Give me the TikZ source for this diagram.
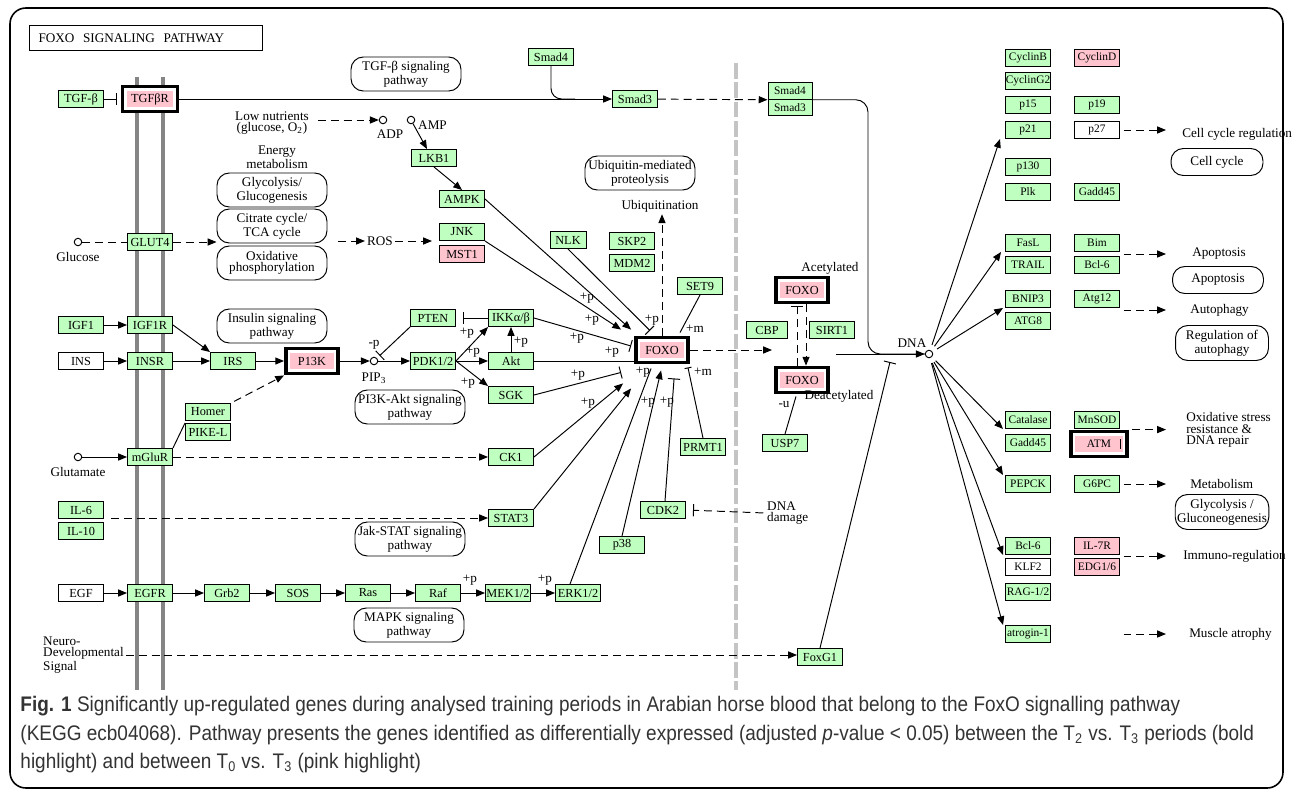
\documentclass[tikz,border=0pt]{standalone}
\usepackage{fontspec}
\setmainfont{Liberation Serif}
\newfontfamily\capfont[FakeStretch=0.9]{Liberation Sans}
\usetikzlibrary{arrows.meta,positioning}

\definecolor{keggreen}{HTML}{BFFFBF}
\definecolor{keggpink}{HTML}{FFC4CE}
\definecolor{membrane}{HTML}{858585}
\definecolor{divider}{HTML}{C4C4C4}
\definecolor{captext}{HTML}{333333}

\begin{document}
\begin{tikzpicture}[x=0.02cm, y=-0.02cm, line width=0.55pt,
  every node/.style={font=\fontsize{7.5}{6.6}\selectfont},
  gene/.style={draw, fill=keggreen, minimum width=0.9cm, minimum height=0.34cm, inner sep=0pt, font=\fontsize{7}{7}\selectfont},
  hitgene/.style={gene, fill=keggpink},
  nogene/.style={gene, fill=white},
  rgene/.style={gene, font=\fontsize{6.5}{6.5}\selectfont},
  boldhit/.style={draw, line width=2.2pt, fill=white, minimum width=1.04cm, minimum height=0.5cm, inner sep=0pt, font=\fontsize{7}{7}\selectfont,
    path picture={\fill[keggpink] ([shift={(2.3pt,2.3pt)}]path picture bounding box.south west) rectangle ([shift={(-2.3pt,-2.3pt)}]path picture bounding box.north east);}},
  pathway/.style={draw, rounded corners=7pt, minimum width=2.2cm, minimum height=0.68cm, align=center, inner sep=1pt},
  dot/.style={draw, circle, fill=white, minimum size=0.15cm, inner sep=0pt},
  lbl/.style={inner sep=1pt, align=center},
  caption/.style={anchor=west, inner sep=0pt, text=captext, font=\capfont\fontsize{12}{14}\selectfont},
  arr/.style={-{Triangle[length=5pt,width=4pt]}},
  inh/.style={-{Bar[width=7pt]}},
  dasharr/.style={dash pattern=on 4.5pt off 2.8pt, -{Triangle[length=5pt,width=4pt]}},
  dashline/.style={dash pattern=on 4.5pt off 2.8pt}
]
\useasboundingbox (0,0) rectangle (1292,795);

% Frame and title
\draw[line width=0.9pt, rounded corners=9pt] (10,8) rectangle (1283,788);
\node[draw, line width=0.9pt, minimum width=4.66cm, minimum height=0.5cm, text width=4.3cm, inner xsep=0.18cm, align=left] (title) at (146,38) {FOXO\ \ SIGNALING\ \ PATHWAY};

% Membranes
\draw[membrane, line width=2.2pt] (137,77) -- (137,690);
\draw[membrane, line width=2.2pt] (163,77) -- (163,690);
\draw[divider, line width=2.8pt, dash pattern=on 9pt off 2pt] (736,63) -- (736,690);

% Receptors and upstream genes
\node[gene] (tgfb) at (81,99) {TGF-β};
\node[boldhit, minimum width=1.1cm] (tgfbr) at (150,99) {TGFβR};
\node[gene] (glut4) at (150,242) {GLUT4};
\node[gene] (igf1) at (81,325) {IGF1};
\node[gene] (igf1r) at (150,325) {IGF1R};
\node[nogene] (ins) at (81,361) {INS};
\node[gene] (insr) at (150,361) {INSR};
\node[gene] (irs) at (233,361) {IRS};
\node[boldhit] (pi3k) at (312,361) {P13K};
\node[gene] (homer) at (208,412) {Homer};
\node[gene] (pikel) at (208,432) {PIKE-L};
\node[gene] (mglur) at (150,457) {mGluR};
\node[gene] (il6) at (81,510) {IL-6};
\node[gene] (il10) at (81,531) {IL-10};
\node[nogene] (egf) at (81,593) {EGF};
\node[gene] (egfr) at (150,593) {EGFR};
\node[gene] (grb2) at (227,593) {Grb2};
\node[gene] (sos) at (298,593) {SOS};
\node[gene] (ras) at (368,593) {Ras};
\node[gene] (raf) at (438,593) {Raf};
\node[gene] (mek) at (508,593) {MEK1/2};
\node[gene] (erk) at (578,593) {ERK1/2};

% Kinases around FOXO
\node[gene] (lkb1) at (434,158) {LKB1};
\node[gene] (ampk) at (462,199) {AMPK};
\node[gene] (jnk) at (462,232) {JNK};
\node[hitgene] (mst1) at (462,254) {MST1};
\node[gene] (pten) at (433,318) {PTEN};
\node[gene] (pdk) at (433,361) {PDK1/2};
\node[gene] (ikk) at (511,318) {IKKα/β};
\node[gene] (akt) at (511,361) {Akt};
\node[gene] (sgk) at (511,395) {SGK};
\node[gene] (ck1) at (511,457) {CK1};
\node[gene] (stat3) at (511,518) {STAT3};
\node[gene, minimum width=0.72cm] (nlk) at (568,240) {NLK};
\node[gene] (skp2) at (632,241) {SKP2};
\node[gene] (mdm2) at (632,263) {MDM2};
\node[gene] (set9) at (700,286) {SET9};
\node[gene] (prmt1) at (703,447) {PRMT1};
\node[gene] (p38) at (622,545) {p38};
\node[gene] (cdk2) at (663,510) {CDK2};
\node[gene] (smad4a) at (551,57) {Smad4};
\node[gene] (smad3a) at (635,99) {Smad3};
\node[boldhit] (foxo) at (662,350) {FOXO};

% Nucleus
\node[rgene, minimum width=0.88cm, minimum height=0.33cm] (smad4b) at (790,91) {Smad4};
\node[rgene, minimum width=0.88cm, minimum height=0.33cm] (smad3b) at (790,107.5) {Smad3};
\node[boldhit] (foxoac) at (802,290) {FOXO};
\node[boldhit] (foxode) at (802,380) {FOXO};
\node[gene, minimum width=0.82cm] (cbp) at (767,330) {CBP};
\node[gene] (sirt1) at (832,330) {SIRT1};
\node[gene] (usp7) at (785,443) {USP7};
\node[gene] (foxg1) at (820,657) {FoxG1};

% Target genes
\node[rgene] (cyclinb) at (1028,58) {CyclinB};
\node[rgene, fill=keggpink] (cyclind) at (1097,58) {CyclinD};
\node[rgene] (cyclg2) at (1028,81) {CyclinG2};
\node[rgene] (p15) at (1028,105) {p15};
\node[rgene] (p19) at (1097,105) {p19};
\node[rgene] (p21) at (1028,130) {p21};
\node[rgene, fill=white] (p27) at (1097,130) {p27};
\node[rgene] (p130) at (1028,167) {p130};
\node[rgene] (plk) at (1028,192) {Plk};
\node[rgene] (gadd45a) at (1097,192) {Gadd45};
\node[rgene] (fasl) at (1028,243) {FasL};
\node[rgene] (bim) at (1097,243) {Bim};
\node[rgene] (trail) at (1028,265) {TRAIL};
\node[rgene] (bcl6a) at (1097,265) {Bcl-6};
\node[rgene] (bnip3) at (1028,299) {BNIP3};
\node[rgene] (atg12) at (1097,299) {Atg12};
\node[rgene] (atg8) at (1028,321) {ATG8};
\node[rgene] (catalase) at (1028,420) {Catalase};
\node[rgene] (mnsod) at (1097,420) {MnSOD};
\node[rgene] (gadd45b) at (1028,443) {Gadd45};
\node[boldhit, minimum width=1.12cm, font=\fontsize{6.5}{6.5}\selectfont] (atm) at (1099,444) {ATM};
\node[rgene] (pepck) at (1028,484) {PEPCK};
\node[rgene] (g6pc) at (1097,484) {G6PC};
\node[rgene] (bcl6b) at (1028,546) {Bcl-6};
\node[rgene, fill=keggpink] (il7r) at (1097,546) {IL-7R};
\node[rgene, fill=white] (klf2) at (1028,567) {KLF2};
\node[rgene, fill=keggpink] (edg) at (1097,567) {EDG1/6};
\node[rgene] (rag) at (1028,592) {RAG-1/2};
\node[rgene] (atrogin) at (1028,634) {atrogin-1};

% Pathway maps
\node[pathway] (tgfpath) at (406,74) {TGF-β signaling\\pathway};
\node[pathway] (glyco) at (272,190) {Glycolysis/\\Glucogenesis};
\node[pathway] (tca) at (272,226) {Citrate cycle/\\TCA cycle};
\node[pathway] (oxphos) at (272,263) {Oxidative\\phosphorylation};
\node[pathway] (inspath) at (272,326) {Insulin signaling\\pathway};
\node[pathway] (pi3kpath) at (410,407) {PI3K-Akt signaling\\pathway};
\node[pathway] (ubiq) at (640,173) {Ubiquitin-mediated\\proteolysis};
\node[pathway] (jakpath) at (410,539) {Jak-STAT signaling\\pathway};
\node[pathway] (mapkpath) at (409,625) {MAPK signaling\\pathway};
\node[pathway, minimum width=1.84cm, minimum height=0.54cm] (cellcycle) at (1217,162) {Cell cycle};
\node[pathway, minimum width=1.82cm, minimum height=0.54cm] (apopbox) at (1218,280) {Apoptosis};
\node[pathway, minimum width=1.86cm, minimum height=0.7cm] (autobox) at (1222,343) {Regulation of\\autophagy};
\node[pathway, minimum width=1.86cm, minimum height=0.7cm] (glucobox) at (1222,512) {Glycolysis /\\Gluconeogenesis};

% Compounds
\node[dot] (glucose) at (78,242) {};
\node[dot] (glutamate) at (78,457) {};
\node[dot] (adp) at (383,120) {};
\node[dot] (amp) at (411,120) {};
\node[dot] (pip3) at (374,361) {};
\node[dot] (dna) at (929,354) {};

% Labels
\node[lbl, below=2pt of glucose] (glucosel) {Glucose};
\node[lbl, below=2pt of glutamate] (glutamatel) {Glutamate};
\node[lbl] (adpl) at (390,134) {ADP};
\node[lbl, anchor=west] (ampl) at (416,125) {AMP};
\node[lbl, below=3pt of pip3] (pip3l) {PIP\textsubscript{3}};
\node[lbl, above=3pt of pip3] (minusp) {-p};
\node[lbl] (lownut) at (272,123) {Low nutrients\\(glucose, O\textsubscript{2})};
\node[lbl] (energy) at (277,157) {Energy\\metabolism};
\node[lbl] (ros) at (380,241) {ROS};
\node[lbl] (ubiqt) at (660,206) {Ubiquitination};
\node[lbl, anchor=west, align=left] (dnadmg) at (765,513) {DNA\\damage};
\node[lbl, anchor=west, align=left] (neuro) at (41,655) {Neuro-\\Developmental\\Signal};
\node[lbl] (acet) at (830,268) {Acetylated};
\node[lbl] (deacet) at (839,396) {Deacetylated};
\node[lbl] (minusu) at (784,405) {-u};
\node[lbl] (dnal) at (912,343) {DNA};
\node[lbl, anchor=west] (ccreg) at (1180,134) {Cell cycle regulation};
\node[lbl, anchor=west] (apoptxt) at (1190,254) {Apoptosis};
\node[lbl, anchor=west] (autotxt) at (1188,310) {Autophagy};
\node[lbl, anchor=west, align=left] (oxtxt) at (1184,430) {Oxidative stress\\resistance \&\\DNA repair};
\node[lbl, anchor=west] (metatxt) at (1188,484) {Metabolism};
\node[lbl, anchor=west] (immtxt) at (1181,556) {Immuno-regulation};
\node[lbl, anchor=west] (muscletxt) at (1187,634) {Muscle atrophy};
\foreach \px/\py [count=\i] in {587/298, 592/320, 577/338, 612/352, 578/375, 588/403, 643/372, 648/402, 667/402, 652/320, 467/333, 473/352, 468/383, 521/342, 470/580, 545/580}
  \node (plusp\i) at (\px,\py) {+p};
\node (plusm1) at (695,329) {+m};
\node (plusm2) at (703,372) {+m};

% Free ends
\coordinate (smadjoin) at (575,99);
\coordinate (smadbend) at (868,354);
\coordinate (foxoout) at (836,354);
\coordinate (grpin) at (772,350);
\coordinate (foxg1tee) at (890,362);
\coordinate (rtip) at (1166,0);

% Membrane signalling
\draw[inh, shorten >=2pt] (tgfb) -- (tgfbr);
\draw[arr] (tgfbr) -- (smad3a);
\draw[rounded corners=6pt] (smad4a.south) |- (smadjoin);
\draw[dasharr] (smad3a) -- (smad4b.south west);
\draw[rounded corners=7pt] (smad4b.south east) -| (smadbend) -- (dna);
\draw[dashline] (glucose) -- (glut4);
\draw[dasharr] (glut4) -- (glut4 -| tca.west);
\draw[dasharr, shorten <=6pt] (tca.east |- ros) -- (ros);
\draw[dasharr, shorten >=4pt] (ros) -- (ros -| jnk.west);
\draw[dasharr, shorten <=4pt] (lownut.east |- adp) -- (adp);
\draw[arr] (amp) -- ([shift={(-7,0)}]lkb1.north);
\draw[arr] (lkb1.south) -- (ampk.north);
\draw[arr] (igf1) -- (igf1r);
\draw[arr] (ins) -- (insr);
\draw[arr] (igf1r.east) -- (irs.north west);
\draw[arr] (insr) -- (irs);
\draw[arr] (irs) -- (pi3k);
\draw[dasharr, shorten <=2pt] (homer.north east) -- (pi3k.south west);
\draw (mglur.north east) -- (pikel.north west);
\draw[arr] (glutamate) -- (mglur);
\draw[dasharr] (mglur) -- (ck1);
\draw[dasharr, shorten <=4pt] (il6.east |- stat3) -- (stat3);
\draw[arr] (egf) -- (egfr);
\draw[arr] (egfr) -- (grb2);
\draw[arr] (grb2) -- (sos);
\draw[arr] (sos) -- (ras);
\draw[arr] (ras) -- (raf);
\draw[arr] (raf) -- (mek);
\draw[arr] (mek) -- (erk);
\draw[dasharr] (neuro.east) -- (neuro.east -| foxg1.west);

% PI3K-Akt branch
\draw[arr] (pi3k) -- (pip3);
\draw[arr] (pip3) -- (pdk);
\draw[inh, shorten >=2pt] (pten.south west) -- (pip3);
\draw[inh, shorten >=4pt] (ikk) -- (pten);
\draw[arr] (pdk.east) -- (ikk.south west);
\draw[arr] (pdk) -- (akt);
\draw[arr] (pdk.east) -- (sgk.north west);
\draw[arr] (akt) -- (ikk);

% Inputs to FOXO
\draw[arr] (ampk.east) -- ([shift={(-3,-6)}]foxo.north west);
\draw[arr] (jnk.south east) -- ([shift={(-13,-6)}]foxo.north west);
\draw[inh] (nlk.south) -- ([shift={(-12,-5)}]foxo.north);
\draw (set9.south) -- ([shift={(18,-3)}]foxo.north);
\draw[inh] (ikk.east) -- ([shift={(-3,-4)}]foxo.west);
\draw (akt) -- (akt -| foxo.west);
\draw[inh] (sgk.east) -- ([shift={(-13,8)}]foxo.south west);
\draw[arr] (ck1.east) -- ([shift={(-11,19)}]foxo.south west);
\draw[arr] (stat3.north east) -- ([shift={(-3,24)}]foxo.south west);
\draw ([shift={(-8,0)}]erk.north) -- ([shift={(17,4)}]foxo.south west);
\draw[arr] (p38.north) -- ([shift={(27,6)}]foxo.south west);
\draw[inh] ([shift={(2,0)}]cdk2.north) -- ([shift={(40,14)}]foxo.south west);
\draw[-{Bar[width=4pt]}] (prmt1.north) -- ([shift={(-2,3)}]foxo.south east);
\draw[dasharr] (foxo.north) -- (foxo.north |- ubiqt.south);
\draw[inh, dashline, shorten <=1pt, shorten >=4pt] (dnadmg.west) -- (cdk2.east);

% FOXO in the nucleus
\draw[dasharr] (foxo) -- (grpin);
\draw[inh, dashline] ([shift={(-5,0)}]foxode.north) -- ([shift={(-5,2)}]foxoac.south);
\draw[dasharr] ([shift={(4,0)}]foxoac.south) -- ([shift={(4,0)}]foxode.north);
\draw (usp7.north) -- ([shift={(-6,2)}]foxode.south);
\draw[arr] (foxoout) -- (dna);
\draw[inh] (foxg1.north) -- (foxg1tee);
\draw ([shift={(-8,-5)}]atm.east) -- ([shift={(-8,5)}]atm.east);

% Transcription
\draw[arr, shorten <=3pt] (dna) -- ([shift={(-5,0)}]p21.south west);
\draw[arr, shorten <=3pt] (dna) -- ([shift={(-4,0)}]fasl.south west);
\draw[arr, shorten <=3pt] (dna) -- ([shift={(-2,0)}]bnip3.south west);
\draw[arr, shorten <=3pt] (dna) -- ([shift={(-2,0)}]catalase.south west);
\draw[arr, shorten <=3pt] (dna) -- ([shift={(-2,0)}]pepck.north west);
\draw[arr, shorten <=3pt] (dna) -- ([shift={(-2,0)}]bcl6b.south west);
\draw[arr, shorten <=3pt] (dna) -- ([shift={(-2,0)}]atrogin.north west);

% Outcomes
\draw[dasharr, shorten <=2pt] (p27.east) -- (p27.east -| rtip);
\draw[dasharr, shorten <=2pt] (bim.east |- apoptxt) -- (rtip |- apoptxt);
\draw[dasharr, shorten <=2pt] (atg12.east |- autotxt) -- (rtip |- autotxt);
\draw[dasharr, shorten <=2pt] (atm.north east) -- (rtip |- atm.north east);
\draw[dasharr, shorten <=2pt] (g6pc.east) -- (rtip |- g6pc);
\draw[dasharr, shorten <=2pt] (il7r.east |- immtxt) -- (rtip |- immtxt);
\draw[dasharr, shorten <=2pt] (edg.east |- muscletxt) -- (rtip |- muscletxt);

% Caption
\node[caption] (cap1) at (20,706) {\textbf{Fig. 1} Significantly up-regulated genes during analysed training periods in Arabian horse blood that belong to the FoxO signalling pathway};
\node[caption] (cap2) at (20,735) {(KEGG ecb04068). Pathway presents the genes identified as differentially expressed (adjusted \textit{p}-value < 0.05) between the T\textsubscript{2} vs. T\textsubscript{3} periods (bold};
\node[caption] (cap3) at (20,763) {highlight) and between T\textsubscript{0} vs. T\textsubscript{3} (pink highlight)};
\end{tikzpicture}
\end{document}
